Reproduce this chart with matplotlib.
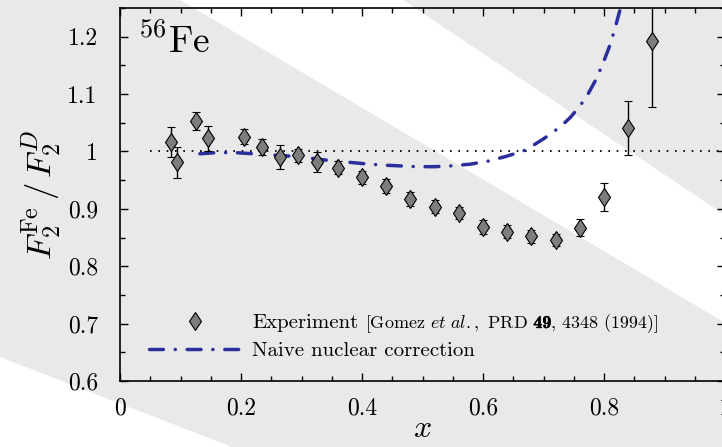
import numpy as np
import matplotlib
matplotlib.use('Agg')
import matplotlib.pyplot as plt
from matplotlib.lines import Line2D
from matplotlib.patches import Polygon
from matplotlib.ticker import MultipleLocator, FuncFormatter
import matplotlib.transforms as mtransforms
import matplotlib.patheffects as pe

plt.rcParams['font.family'] = 'serif'
plt.rcParams['font.serif'] = ['cmr10']
plt.rcParams['mathtext.fontset'] = 'cm'
plt.rcParams['axes.formatter.use_mathtext'] = True
plt.rcParams['lines.scale_dashes'] = False

# datos experimentales (Gomez et al. 1994)
x_exp = [0.084, 0.095, 0.125, 0.145, 0.205, 0.235, 0.265, 0.295, 0.325, 0.36,
         0.40, 0.44, 0.48, 0.52, 0.56, 0.60, 0.64, 0.68, 0.72, 0.76, 0.80, 0.84, 0.88]
r_exp = [1.017, 0.981, 1.053, 1.023, 1.026, 1.007, 0.991, 0.993, 0.982, 0.972,
         0.955, 0.940, 0.917, 0.904, 0.893, 0.869, 0.860, 0.852, 0.846, 0.867,
         0.921, 1.041, 1.193]
err_exp = [0.026, 0.027, 0.015, 0.022, 0.013, 0.014, 0.021, 0.011, 0.017, 0.012,
           0.011, 0.012, 0.012, 0.012, 0.011, 0.012, 0.011, 0.011, 0.011, 0.015,
           0.024, 0.047, 0.116]

# correccion nuclear ingenua
x_nc = [0.132, 0.16, 0.19, 0.22, 0.25, 0.28, 0.31, 0.34, 0.37, 0.40, 0.43, 0.46,
        0.49, 0.52, 0.55, 0.58, 0.61, 0.64, 0.667, 0.685, 0.70, 0.715, 0.73,
        0.745, 0.76, 0.772, 0.785, 0.797, 0.808, 0.817, 0.826]
r_nc = [0.996, 0.998, 0.998, 0.996, 0.994, 0.992, 0.989, 0.985, 0.982, 0.979,
        0.9765, 0.975, 0.9735, 0.9735, 0.975, 0.978, 0.9835, 0.992, 1.001, 1.012,
        1.022, 1.033, 1.045, 1.060, 1.079, 1.097, 1.122, 1.150, 1.180, 1.210, 1.245]

x_ticks = [0, 0.2, 0.4, 0.6, 0.8, 1]
y_ticks = [0.6, 0.7, 0.8, 0.9, 1.0, 1.1, 1.2]

W, H = 722, 447
fig = plt.figure(figsize=(W / 100, H / 100), dpi=100)
fig.patch.set_facecolor('white')

# fondo con franjas grises
def pix(pts):
    return [(px / W, 1 - py / H) for px, py in pts]

gris = '#e9e9e9'
fig.patches.append(Polygon(pix([(0, 0), (180, 0), (722, 321), (722, 447), (232, 447), (0, 357)]),
                           closed=True, transform=fig.transFigure, facecolor=gris,
                           edgecolor='none', zorder=-10))
fig.patches.append(Polygon(pix([(403, 0), (722, 0), (722, 213)]),
                           closed=True, transform=fig.transFigure, facecolor=gris,
                           edgecolor='none', zorder=-10))

ax = fig.add_axes([120 / W, 1 - 381 / H, 605 / W, 373 / H])
ax.patch.set_alpha(0)

azul = '#2b2f9b'
estilo_nc = (0, (10, 8.5, 0.1, 8.5))
ax.hlines(1.0, 0.05, 1.0, colors='k', linestyles=(0, (1.2, 4.8)), linewidth=1.3)

ax.plot(x_nc, r_nc, color=azul, linewidth=2.5, solid_capstyle='round',
        dash_capstyle='round', linestyle=estilo_nc)

ax.errorbar(x_exp, r_exp, yerr=err_exp, fmt='d', color='k', ecolor='k',
            markerfacecolor='#7d7d7d', markeredgecolor='k', markeredgewidth=0.8,
            markersize=9.5, elinewidth=1.0, capsize=3, capthick=1.0)

ax.set_xlim(0, 1)
ax.set_ylim(0.6, 1.25)
ax.set_xticks(x_ticks)
ax.set_yticks(y_ticks)
ax.xaxis.set_minor_locator(MultipleLocator(0.05))
ax.yaxis.set_minor_locator(MultipleLocator(0.05))
fmt = FuncFormatter(lambda v, p: '%g' % round(v, 3))
ax.xaxis.set_major_formatter(fmt)
ax.yaxis.set_major_formatter(fmt)
ax.tick_params(which='both', direction='in', top=True, right=True, width=1.0)
ax.tick_params(which='major', length=6, labelsize=17)
ax.tick_params(axis='x', which='major', pad=12)
ax.tick_params(axis='y', which='major', pad=16)
ax.tick_params(which='minor', length=3.5)
for s in ax.spines.values():
    s.set_linewidth(1.2)

ax.set_xlabel(r'$x$', fontsize=23, labelpad=-3)
ax.set_ylabel(r'$F_2^{\mathrm{Fe}}\,/\,F_2^{D}$', fontsize=25, labelpad=3)

ax.text(0.03, 0.96, r'$^{56}\mathrm{Fe}$', transform=ax.transAxes, fontsize=27,
        ha='left', va='top')

h1 = Line2D([], [], linestyle='none', marker='d', markersize=9.5,
            markerfacecolor='#7d7d7d', markeredgecolor='k', markeredgewidth=0.8)
h2 = Line2D([], [], color=azul, linewidth=2.5, dash_capstyle='round',
            linestyle=estilo_nc)
leg = ax.legend([h1, h2], ['Experiment', 'Naive nuclear correction'],
                loc='center left', bbox_to_anchor=(0.048, 0.119), frameon=False,
                fontsize=15, handlelength=4.4, handletextpad=0.55,
                borderpad=0, borderaxespad=0, labelspacing=0.45)

# referencia en letra mas chica despues de "Experiment", por trozos
fig.canvas.draw()
renderer = fig.canvas.get_renderer()
t0 = leg.get_texts()[0]
bx, by = t0.get_transform().transform(t0.get_position())
xpos = t0.get_window_extent().x1 + 7
trozos = [
    (r'[Gomez $\mathit{et\ al.,}$ PRD', {}, 5),
    ('49', dict(family='cmb10',
                path_effects=[pe.withStroke(linewidth=0.35, foreground='k')]), 0),
    (', 4348 (1994)]', {}, 0),
]
for s, kw, hueco in trozos:
    t = fig.text(xpos, by, s, transform=mtransforms.IdentityTransform(),
                 fontsize=13, ha='left', va='baseline', **kw)
    xpos = t.get_window_extent(renderer).x1 + hueco

fig.savefig('out.png', dpi=100)
